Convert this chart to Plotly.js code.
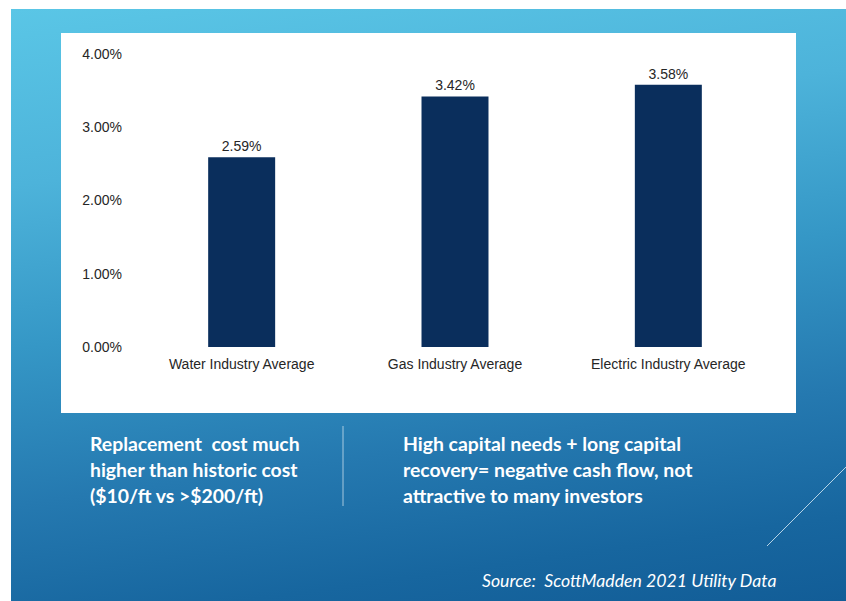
<!DOCTYPE html>
<html>
<head>
<meta charset="utf-8">
<script src="https://cdn.plot.ly/plotly-3.0.1.min.js"></script>
<style>
  html, body { margin: 0; padding: 0; background: #ffffff; }
  #wrap { position: relative; width: 846px; height: 601px; overflow: hidden; }
  #slide { position: absolute; left: 11px; top: 9px; width: 835px; height: 592px;
    background: linear-gradient(172deg, #5AC6E6 0%, #4DB3DA 25%, #3597C6 48%, #2579B0 70%, #17669F 88%, #125D97 100%); }
  #chart { position: absolute; left: 0; top: 0; width: 846px; height: 601px; }
</style>
</head>
<body>
<div id="wrap">
  <div id="slide"></div>
  <div id="chart"></div>
</div>
<script>
// ---- data ----
const categories = ["Water Industry Average", "Gas Industry Average", "Electric Industry Average"];
const values = [0.0259, 0.0342, 0.0358];
const tickValues = [0, 0.01, 0.02, 0.03, 0.04];
const leftNote = ["Replacement  cost much", "higher than historic cost", "($10/ft vs >$200/ft)"];
const rightNote = ["High capital needs + long capital", "recovery= negative cash flow, not", "attractive to many investors"];
const sourceNote = "Source:  ScottMadden 2021 Utility Data";

// ---- layout geometry (pixels) ----
const W = 846, H = 601;
const M = {l: 135, r: 71, t: 54, b: 254};
const PW = W - M.l - M.r, PH = H - M.t - M.b;
const px = x => (x - M.l) / PW;
const py = y => (H - M.b - y) / PH;

const noteFont = {family: "Lato, 'Open Sans', sans-serif", size: 19.4, color: "#ffffff", weight: 700};
const annotations = [];
const lineYs = [443, 469, 495];
leftNote.forEach((t, i) => annotations.push({
  text: "<b>" + t + "</b>", xref: "paper", yref: "paper", x: px(88), y: py(lineYs[i]),
  xanchor: "left", yanchor: "middle", showarrow: false, font: noteFont
}));
rightNote.forEach((t, i) => annotations.push({
  text: "<b>" + t + "</b>", xref: "paper", yref: "paper", x: px(401), y: py(lineYs[i]),
  xanchor: "left", yanchor: "middle", showarrow: false, font: noteFont
}));
annotations.push({
  text: "<i>" + sourceNote + "</i>", xref: "paper", yref: "paper", x: px(480), y: py(580),
  xanchor: "left", yanchor: "middle", showarrow: false,
  font: {family: "Lato, 'Open Sans', sans-serif", size: 17.7, color: "#ffffff"}
});

const shapes = [
  {type: "rect", xref: "paper", yref: "paper", x0: px(61), x1: px(796), y0: py(413), y1: py(33),
   fillcolor: "#ffffff", line: {width: 0}, layer: "below"},
  {type: "line", xref: "paper", yref: "paper", x0: px(343), x1: px(343), y0: py(426), y1: py(506),
   line: {color: "rgba(255,255,255,0.6)", width: 1}},
  {type: "line", xref: "paper", yref: "paper", x0: px(767), x1: px(846), y0: py(546), y1: py(467),
   line: {color: "rgba(210,230,242,0.85)", width: 1}}
];

const trace = {
  type: "bar", x: categories, y: values,
  marker: {color: "#0A2E5C"},
  texttemplate: "%{y:.2%}", textposition: "outside", cliponaxis: false,
  textfont: {family: "'Liberation Sans', Arial, sans-serif", size: 14, color: "#262626"},
  hoverinfo: "none"
};

const layout = {
  width: W, height: H,
  margin: M,
  paper_bgcolor: "rgba(0,0,0,0)", plot_bgcolor: "rgba(0,0,0,0)",
  showlegend: false,
  bargap: 0.686,
  font: {family: "'Liberation Sans', Arial, sans-serif", size: 14, color: "#262626"},
  xaxis: {showgrid: false, showline: false, zeroline: false, ticks: "", ticklabelstandoff: 7,
          tickfont: {size: 14, color: "#262626"}},
  yaxis: {range: [0, 0.04], tickvals: tickValues, tickformat: ".2%", showgrid: false, showline: false,
          zeroline: false, ticks: "", ticklabelstandoff: 12, tickfont: {size: 14, color: "#262626"}},
  shapes: shapes,
  annotations: annotations
};

Plotly.newPlot("chart", [trace], layout, {displayModeBar: false, staticPlot: true});
</script>
</body>
</html>
